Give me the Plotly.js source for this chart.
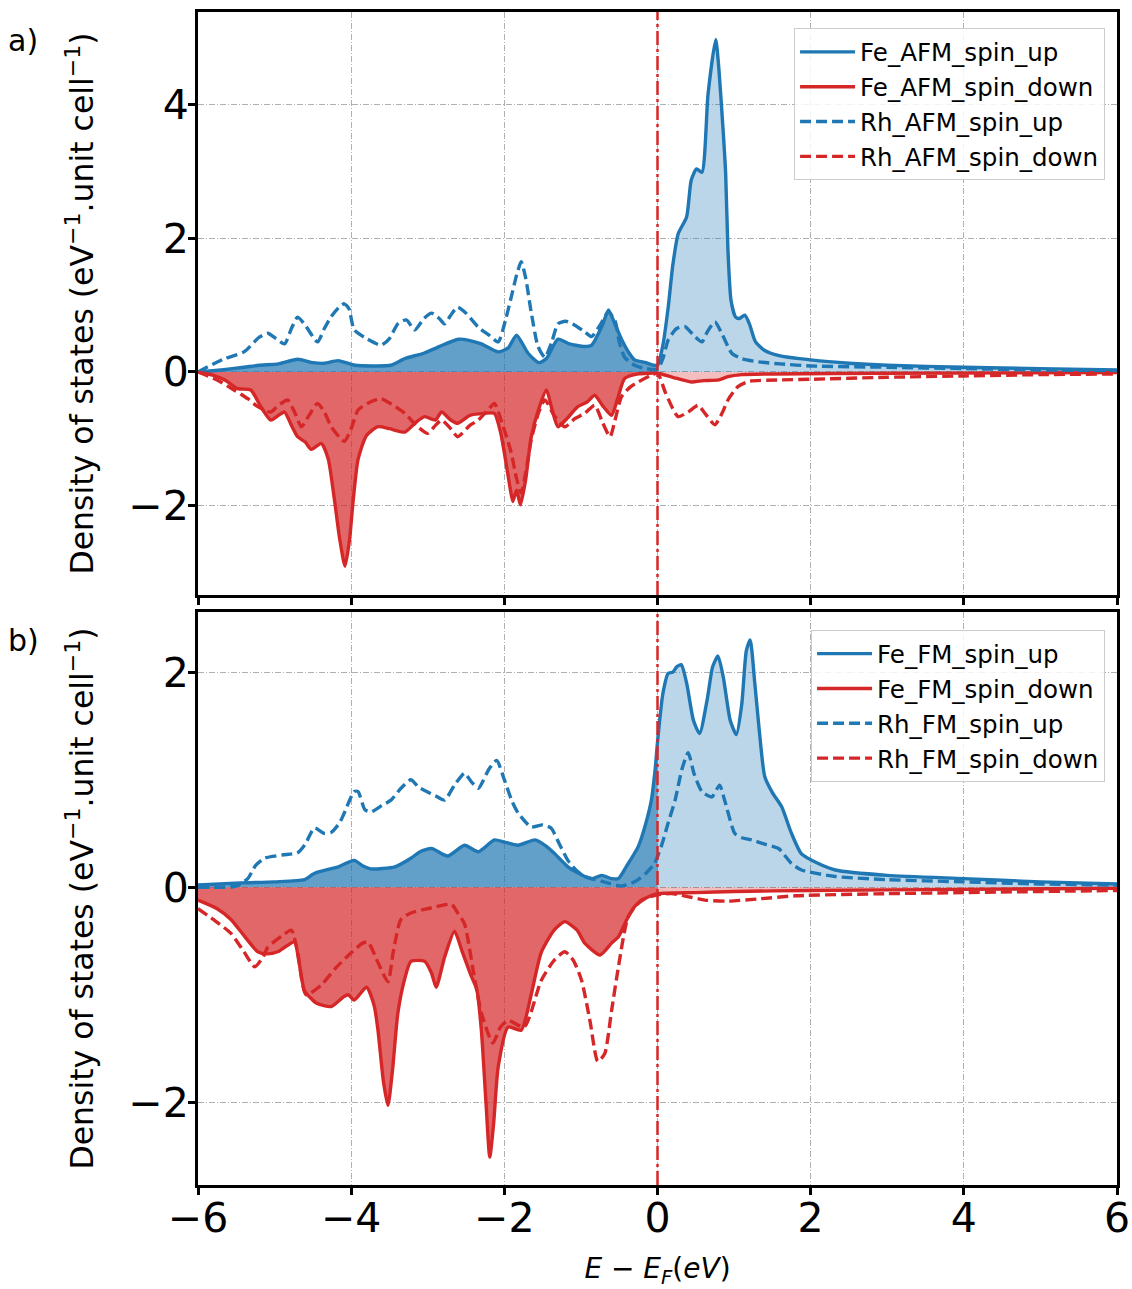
<!DOCTYPE html>
<html>
<head>
<meta charset="utf-8">
<script src="https://cdn.plot.ly/plotly-3.0.1.min.js"></script>
<style>html,body{margin:0;padding:0;background:#fff;}#chart{width:1132px;height:1289px;}</style>
</head>
<body>
<div id="chart"></div>
<script>
// ---------- Data (energies E - E_F in eV, DOS values) ----------
// Panel a) AFM
const E_fe_afm_up = [-6.0,-5.7,-5.4,-5.2,-4.95,-4.7,-4.5,-4.35,-4.17,-3.95,-3.7,-3.48,-3.3,-3.05,-2.85,-2.6,-2.45,-2.3,-2.08,-1.95,-1.84,-1.69,-1.55,-1.45,-1.3,-1.15,-0.95,-0.86,-0.72,-0.64,-0.55,-0.47,-0.38,-0.3,-0.15,-0.05,0,0.07,0.14,0.2,0.27,0.38,0.44,0.51,0.58,0.66,0.76,0.8,0.86,0.89,0.92,0.96,1.02,1.07,1.14,1.2,1.28,1.4,1.6,2.0,2.5,3.0,4.0,5.0,6.0];
const fe_afm_up   = [0.0,0.03,0.07,0.1,0.12,0.19,0.14,0.13,0.17,0.1,0.09,0.1,0.2,0.28,0.38,0.49,0.47,0.42,0.3,0.36,0.55,0.28,0.14,0.2,0.49,0.42,0.38,0.4,0.7,0.93,0.7,0.49,0.3,0.18,0.14,0.1,0.1,0.4,0.97,1.6,2.07,2.32,2.87,3.04,2.99,4.16,4.98,4.56,3.56,2.97,1.82,1.07,0.82,0.8,0.85,0.72,0.45,0.32,0.24,0.18,0.13,0.1,0.07,0.05,0.03];

const E_fe_afm_dn = [-6.0,-5.8,-5.65,-5.48,-5.31,-5.18,-5.05,-4.95,-4.87,-4.78,-4.7,-4.6,-4.52,-4.39,-4.3,-4.22,-4.15,-4.08,-4.02,-3.98,-3.91,-3.8,-3.65,-3.5,-3.3,-3.15,-3.04,-2.9,-2.82,-2.7,-2.61,-2.45,-2.26,-2.13,-2.05,-2.0,-1.93,-1.89,-1.84,-1.79,-1.72,-1.65,-1.55,-1.45,-1.38,-1.3,-1.2,-1.04,-0.92,-0.82,-0.72,-0.6,-0.52,-0.43,-0.25,0,0.2,0.44,0.6,0.8,0.92,1.1,1.5,3.0,6.0];
const fe_afm_dn   = [0.0,-0.05,-0.12,-0.25,-0.27,-0.52,-0.72,-0.65,-0.6,-0.8,-0.97,-1.05,-1.16,-1.07,-1.3,-1.9,-2.5,-2.91,-2.5,-2.0,-1.31,-0.95,-0.82,-0.85,-0.9,-0.75,-0.67,-0.72,-0.6,-0.72,-0.77,-0.65,-0.62,-0.62,-0.9,-1.21,-1.7,-1.94,-1.77,-1.99,-1.6,-0.98,-0.55,-0.27,-0.55,-0.82,-0.72,-0.52,-0.45,-0.35,-0.5,-0.65,-0.4,-0.1,-0.03,-0.02,-0.08,-0.15,-0.13,-0.12,-0.07,-0.04,-0.03,-0.02,-0.01];

const E_rh_afm_up = [-6.0,-5.8,-5.65,-5.4,-5.2,-5.09,-4.98,-4.87,-4.78,-4.7,-4.6,-4.44,-4.35,-4.26,-4.15,-4.09,-4.03,-3.96,-3.8,-3.61,-3.5,-3.39,-3.28,-3.17,-3.05,-2.95,-2.85,-2.78,-2.7,-2.61,-2.5,-2.34,-2.2,-2.08,-1.98,-1.91,-1.84,-1.78,-1.72,-1.65,-1.56,-1.47,-1.38,-1.3,-1.2,-1.08,-0.95,-0.86,-0.75,-0.64,-0.55,-0.5,-0.43,-0.3,-0.15,0,0.07,0.14,0.25,0.36,0.47,0.58,0.65,0.75,0.85,0.97,1.1,1.32,1.6,2.0,3.0,4.0,5.0,6.0];
const rh_afm_up   = [0.0,0.12,0.2,0.3,0.52,0.58,0.5,0.42,0.65,0.82,0.7,0.45,0.65,0.83,0.98,1.02,0.95,0.63,0.5,0.4,0.5,0.72,0.78,0.63,0.8,0.88,0.8,0.72,0.85,0.97,0.88,0.67,0.55,0.45,0.8,1.12,1.45,1.65,1.4,0.9,0.38,0.22,0.45,0.72,0.76,0.7,0.6,0.53,0.7,0.9,0.75,0.45,0.22,0.1,0.05,0.04,0.2,0.48,0.65,0.68,0.55,0.45,0.6,0.75,0.55,0.28,0.2,0.15,0.12,0.09,0.07,0.05,0.03,0.02];

const E_rh_afm_dn = [-6.0,-5.75,-5.53,-5.35,-5.22,-5.05,-4.95,-4.83,-4.74,-4.65,-4.55,-4.44,-4.35,-4.26,-4.09,-4.0,-3.91,-3.75,-3.61,-3.45,-3.3,-3.15,-3.0,-2.9,-2.82,-2.7,-2.61,-2.45,-2.34,-2.2,-2.13,-2.02,-1.91,-1.84,-1.78,-1.72,-1.65,-1.55,-1.47,-1.35,-1.21,-1.08,-0.95,-0.82,-0.72,-0.62,-0.55,-0.47,-0.35,-0.25,-0.1,0,0.1,0.2,0.27,0.4,0.53,0.62,0.75,0.85,0.92,1.05,1.2,1.6,2.0,3.0,4.0,5.0,6.0];
const rh_afm_dn   = [0.0,-0.12,-0.27,-0.4,-0.52,-0.6,-0.5,-0.42,-0.6,-0.82,-0.65,-0.47,-0.6,-0.82,-1.04,-0.85,-0.57,-0.45,-0.4,-0.5,-0.62,-0.8,-0.92,-0.8,-0.72,-0.85,-0.97,-0.8,-0.72,-0.55,-0.47,-0.8,-1.21,-1.6,-1.81,-1.5,-1.02,-0.6,-0.42,-0.65,-0.82,-0.7,-0.62,-0.5,-0.75,-0.97,-0.7,-0.37,-0.22,-0.15,-0.06,-0.02,-0.3,-0.55,-0.67,-0.6,-0.5,-0.62,-0.79,-0.6,-0.42,-0.22,-0.14,-0.12,-0.11,-0.08,-0.06,-0.04,-0.03];

// Panel b) FM
const E_fe_fm_up = [-6.0,-5.44,-5.0,-4.61,-4.5,-4.44,-4.17,-3.96,-3.85,-3.74,-3.43,-3.22,-3.1,-2.95,-2.74,-2.52,-2.34,-2.13,-2.0,-1.82,-1.6,-1.45,-1.34,-1.17,-0.95,-0.85,-0.73,-0.6,-0.51,-0.4,-0.25,-0.15,-0.08,-0.03,0,0.07,0.14,0.2,0.25,0.31,0.38,0.47,0.55,0.65,0.72,0.79,0.86,0.95,1.03,1.1,1.16,1.21,1.27,1.33,1.4,1.5,1.62,1.75,1.88,2.1,2.32,3.0,4.0,5.0,6.0];
const fe_fm_up   = [0.02,0.04,0.05,0.07,0.12,0.14,0.19,0.25,0.2,0.17,0.19,0.27,0.33,0.36,0.29,0.39,0.33,0.44,0.42,0.39,0.44,0.38,0.31,0.19,0.1,0.08,0.11,0.08,0.08,0.2,0.38,0.6,0.81,1.1,1.35,1.8,1.99,2.0,2.05,2.07,1.9,1.55,1.43,1.75,2.05,2.15,1.95,1.55,1.42,1.7,2.2,2.3,1.9,1.45,1.03,0.88,0.75,0.5,0.31,0.22,0.16,0.11,0.08,0.05,0.03];

const E_fe_fm_dn = [-6.0,-5.75,-5.57,-5.4,-5.22,-5.1,-4.96,-4.85,-4.74,-4.68,-4.61,-4.45,-4.26,-4.1,-4.04,-3.96,-3.8,-3.7,-3.65,-3.58,-3.52,-3.46,-3.39,-3.3,-3.22,-3.04,-2.95,-2.89,-2.78,-2.65,-2.55,-2.43,-2.36,-2.3,-2.24,-2.19,-2.14,-2.08,-1.95,-1.78,-1.65,-1.52,-1.35,-1.21,-1.05,-0.95,-0.75,-0.6,-0.51,-0.4,-0.3,-0.15,0,0.5,1.0,2.0,4.0,6.0];
const fe_fm_dn   = [-0.12,-0.2,-0.3,-0.45,-0.6,-0.62,-0.6,-0.55,-0.51,-0.7,-0.96,-1.08,-1.11,-1.02,-1.0,-1.05,-0.93,-1.1,-1.33,-1.8,-2.03,-1.7,-1.17,-0.85,-0.69,-0.69,-0.8,-0.93,-0.65,-0.41,-0.6,-0.83,-0.95,-1.33,-2.0,-2.51,-2.2,-1.67,-1.3,-1.33,-1.0,-0.61,-0.4,-0.32,-0.4,-0.52,-0.63,-0.52,-0.46,-0.3,-0.18,-0.1,-0.06,-0.05,-0.04,-0.03,-0.02,-0.01];

const E_rh_fm_up = [-6.0,-5.5,-5.35,-5.25,-5.13,-4.9,-4.7,-4.6,-4.48,-4.35,-4.26,-4.15,-4.09,-3.96,-3.91,-3.82,-3.74,-3.6,-3.48,-3.35,-3.22,-3.12,-3.04,-2.9,-2.78,-2.65,-2.52,-2.43,-2.34,-2.2,-2.1,-2.0,-1.9,-1.82,-1.65,-1.5,-1.39,-1.28,-1.17,-1.05,-0.95,-0.7,-0.47,-0.3,-0.15,-0.04,0.05,0.14,0.23,0.32,0.4,0.48,0.58,0.71,0.81,0.88,1.01,1.1,1.23,1.4,1.58,1.75,1.88,2.32,3.0,4.0,5.0,6.0];
const rh_fm_up   = [0.0,0.01,0.08,0.2,0.27,0.3,0.32,0.4,0.55,0.5,0.51,0.6,0.69,0.89,0.89,0.72,0.7,0.76,0.81,0.92,1.0,0.93,0.9,0.85,0.81,0.95,1.06,0.98,0.92,1.1,1.18,1.0,0.8,0.69,0.56,0.58,0.55,0.4,0.25,0.15,0.1,0.05,0.01,0.05,0.13,0.22,0.38,0.6,0.81,1.1,1.25,1.05,0.89,0.84,0.95,0.8,0.5,0.46,0.44,0.4,0.36,0.22,0.16,0.1,0.07,0.05,0.03,0.02];

const E_rh_fm_dn = [-6.0,-5.8,-5.57,-5.4,-5.26,-5.15,-5.09,-4.9,-4.78,-4.7,-4.59,-4.39,-4.2,-4.0,-3.85,-3.78,-3.65,-3.52,-3.45,-3.35,-3.22,-3.0,-2.69,-2.6,-2.52,-2.4,-2.3,-2.15,-2.05,-1.95,-1.74,-1.52,-1.35,-1.21,-1.1,-0.99,-0.88,-0.78,-0.69,-0.6,-0.51,-0.38,-0.21,0,0.18,0.35,0.62,0.92,1.3,1.8,3.0,4.0,6.0];
const rh_fm_dn   = [-0.2,-0.3,-0.43,-0.6,-0.74,-0.65,-0.56,-0.45,-0.4,-0.6,-1.0,-0.91,-0.75,-0.61,-0.52,-0.51,-0.7,-0.88,-0.6,-0.3,-0.24,-0.2,-0.16,-0.25,-0.34,-0.8,-1.17,-1.45,-1.3,-1.24,-1.3,-0.87,-0.68,-0.6,-0.68,-0.87,-1.25,-1.62,-1.55,-1.15,-0.74,-0.27,-0.12,-0.07,-0.06,-0.08,-0.12,-0.13,-0.11,-0.08,-0.06,-0.05,-0.03];

const xTicks = [-6,-4,-2,0,2,4,6];
const yTicksA = [-2,0,2,4];
const yTicksB = [-2,0,2];

// ---------- Styles ----------
const BLUE = '#1f77b4', RED = '#d62728';
const FONT = 'DejaVu Sans, Arial, sans-serif';
const DASH = '11px,5px';
const SM = 0.6;

function part(E, v, neg) {
  const xs = [], ys = [];
  for (let i = 0; i < E.length; i++) {
    if (neg ? E[i] <= 0 : E[i] >= 0) { xs.push(E[i]); ys.push(v[i]); }
  }
  return {xs, ys};
}
function fills(E, v, color, xa, ya) {
  const a = part(E, v, true), b = part(E, v, false);
  const rgb = color === BLUE ? '31,119,180' : '214,39,40';
  return [
    {x: a.xs, y: a.ys, xaxis: xa, yaxis: ya, type: 'scatter', mode: 'lines', fill: 'tozeroy',
     fillcolor: 'rgba(' + rgb + ',0.7)', line: {width: 0, shape: 'spline', smoothing: SM}, showlegend: false, hoverinfo: 'skip'},
    {x: b.xs, y: b.ys, xaxis: xa, yaxis: ya, type: 'scatter', mode: 'lines', fill: 'tozeroy',
     fillcolor: 'rgba(' + rgb + ',0.3)', line: {width: 0, shape: 'spline', smoothing: SM}, showlegend: false, hoverinfo: 'skip'}
  ];
}
function line(E, v, name, color, dash, xa, ya, leg) {
  return {x: E, y: v, name: name, xaxis: xa, yaxis: ya, type: 'scatter', mode: 'lines', legend: leg,
          line: {color: color, width: 3.4, dash: dash, shape: 'spline', smoothing: SM}};
}

const data = [].concat(
  fills(E_fe_afm_up, fe_afm_up, BLUE, 'x', 'y'),
  fills(E_fe_afm_dn, fe_afm_dn, RED, 'x', 'y'),
  fills(E_fe_fm_up, fe_fm_up, BLUE, 'x2', 'y2'),
  fills(E_fe_fm_dn, fe_fm_dn, RED, 'x2', 'y2'),
  [
    line(E_fe_afm_up, fe_afm_up, 'Fe_AFM_spin_up', BLUE, 'solid', 'x', 'y', 'legend'),
    line(E_fe_afm_dn, fe_afm_dn, 'Fe_AFM_spin_down', RED, 'solid', 'x', 'y', 'legend'),
    line(E_rh_afm_up, rh_afm_up, 'Rh_AFM_spin_up', BLUE, DASH, 'x', 'y', 'legend'),
    line(E_rh_afm_dn, rh_afm_dn, 'Rh_AFM_spin_down', RED, DASH, 'x', 'y', 'legend'),
    line(E_fe_fm_up, fe_fm_up, 'Fe_FM_spin_up', BLUE, 'solid', 'x2', 'y2', 'legend2'),
    line(E_fe_fm_dn, fe_fm_dn, 'Fe_FM_spin_down', RED, 'solid', 'x2', 'y2', 'legend2'),
    line(E_rh_fm_up, rh_fm_up, 'Rh_FM_spin_up', BLUE, DASH, 'x2', 'y2', 'legend2'),
    line(E_rh_fm_dn, rh_fm_dn, 'Rh_FM_spin_down', RED, DASH, 'x2', 'y2', 'legend2')
  ]
);

const axisCommon = {
  showline: true, linecolor: '#000', linewidth: 3, mirror: true,
  ticks: 'outside', ticklen: 7, tickwidth: 3, tickcolor: '#000',
  showgrid: true, gridcolor: '#b0b0b0', gridwidth: 1, griddash: '6px,2px,1px,2px',
  zeroline: false, tickfont: {family: FONT, size: 41, color: '#000'}
};
const yTitle = {text: 'Density of states (eV<sup>−1</sup>.unit cell<sup>−1</sup>)',
                font: {family: FONT, size: 31.5, color: '#000'}, standoff: 26};

const layout = {
  width: 1132, height: 1289,
  margin: {l: 198, r: 15, t: 12, b: 104},
  paper_bgcolor: '#fff', plot_bgcolor: '#fff',
  font: {family: FONT, color: '#000'},
  xaxis: Object.assign({}, axisCommon, {domain: [0, 1], anchor: 'y', range: [-6, 6], tickvals: xTicks, showticklabels: false}),
  yaxis: Object.assign({}, axisCommon, {domain: [0.503, 1], anchor: 'x', range: [-3.34, 5.39], tickvals: yTicksA,
    ticklabelstandoff: -9, title: yTitle}),
  xaxis2: Object.assign({}, axisCommon, {domain: [0, 1], anchor: 'y2', range: [-6, 6], tickvals: xTicks, matches: 'x',
    ticklabelstandoff: -12,
    title: {text: '<i>E</i> − <i>E<sub>F</sub></i>(<i>eV</i>)', font: {family: FONT, size: 28, color: '#000'}, standoff: 18}}),
  yaxis2: Object.assign({}, axisCommon, {domain: [0, 0.4885], anchor: 'x2', range: [-2.77, 2.56], tickvals: yTicksB,
    ticklabelstandoff: -9, title: yTitle}),
  legend: {x: 0.987, xanchor: 'right', y: 0.986, yanchor: 'top', bgcolor: 'rgba(255,255,255,0.85)',
           bordercolor: '#cccccc', borderwidth: 1, font: {family: FONT, size: 24.5, color: '#000'}, itemwidth: 55},
  legend2: {x: 0.987, xanchor: 'right', y: 0.473, yanchor: 'top', bgcolor: 'rgba(255,255,255,0.85)',
           bordercolor: '#cccccc', borderwidth: 1, font: {family: FONT, size: 24.5, color: '#000'}, itemwidth: 55},
  shapes: [
    {type: 'line', xref: 'x', yref: 'y domain', x0: 0, x1: 0, y0: 0, y1: 1, layer: 'above',
     line: {color: RED, width: 2.5, dash: '14px,4px,3px,4px'}},
    {type: 'line', xref: 'x2', yref: 'y2 domain', x0: 0, x1: 0, y0: 0, y1: 1, layer: 'above',
     line: {color: RED, width: 2.5, dash: '14px,4px,3px,4px'}}
  ],
  annotations: [
    {text: 'a)', xref: 'paper', yref: 'paper', x: -0.19, y: 0.976, xanchor: 'center', yanchor: 'middle', showarrow: false,
     font: {family: FONT, size: 30, color: '#000'}},
    {text: 'b)', xref: 'paper', yref: 'paper', x: -0.19, y: 0.4646, xanchor: 'center', yanchor: 'middle', showarrow: false,
     font: {family: FONT, size: 30, color: '#000'}}
  ]
};

Plotly.newPlot('chart', data, layout, {staticPlot: true, displayModeBar: false});
</script>
</body>
</html>
